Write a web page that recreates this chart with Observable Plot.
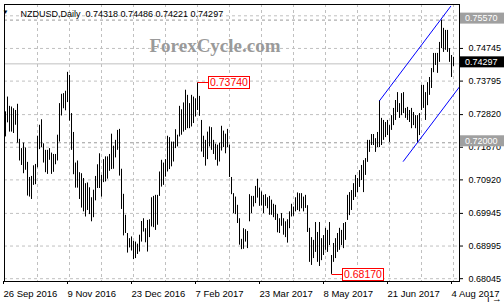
<!DOCTYPE html>
<html><head><meta charset="utf-8">
<script src="https://cdn.jsdelivr.net/npm/d3@7"></script>
<script src="https://cdn.jsdelivr.net/npm/@observablehq/plot@0.6"></script>
<style>
html,body{margin:0;padding:0;background:#fff;}
svg{display:block;}
</style></head><body><div id="chart"></div>
<script>
const symbol = "NZDUSD";
const timeframe = "Daily";
const lastOHLC = [0.74318, 0.74486, 0.74221, 0.74297];
const highs = [
0.7290,0.7333,0.7306,0.7304,0.7299,0.7294,0.7312,0.7210,0.7183,0.7199,
0.7185,0.7143,0.7099,0.7102,0.7133,0.7137,0.7219,0.7251,0.7267,0.7197,
0.7178,0.7178,0.7183,0.7170,0.7166,0.7166,0.7222,0.7314,0.7341,0.7343,
0.7350,0.7405,0.7396,0.7285,0.7230,0.7141,0.7147,0.7113,0.7110,0.7096,
0.7081,0.7083,0.7069,0.7040,0.7062,0.7102,0.7136,0.7168,0.7105,0.7151,
0.7159,0.7159,0.7166,0.7225,0.7190,0.7207,0.7236,0.7239,0.7123,0.7050,
0.6989,0.6936,0.6921,0.6926,0.6913,0.6911,0.6905,0.6931,0.6971,0.6979,
0.6950,0.6974,0.6976,0.7040,0.7044,0.7047,0.7047,0.7115,0.7149,0.7141,
0.7151,0.7219,0.7215,0.7202,0.7202,0.7238,0.7222,0.7306,0.7296,0.7316,
0.7353,0.7338,0.7314,0.7338,0.7333,0.7328,0.7374,0.7335,0.7265,0.7219,
0.7207,0.7231,0.7246,0.7244,0.7207,0.7196,0.7193,0.7199,0.7248,0.7234,
0.7225,0.7239,0.7193,0.7099,0.7052,0.7042,0.7018,0.6979,0.6919,0.6950,
0.6947,0.6942,0.7049,0.7044,0.7044,0.7073,0.7094,0.7068,0.7057,0.7047,
0.7049,0.7040,0.7044,0.7033,0.7021,0.7018,0.6992,0.6979,0.6994,0.6979,
0.6970,0.6976,0.6999,0.7021,0.7013,0.7040,0.7054,0.7052,0.7052,0.7042,
0.7047,0.7017,0.6951,0.6924,0.6916,0.6968,0.6939,0.6968,0.6921,0.6930,
0.6951,0.6945,0.6968,0.6872,0.6907,0.6921,0.6936,0.6951,0.6945,0.6965,
0.6968,0.7047,0.7055,0.7061,0.7081,0.7105,0.7096,0.7119,0.7134,0.7148,
0.7154,0.7207,0.7207,0.7224,0.7224,0.7212,0.7230,0.7323,0.7271,0.7265,
0.7259,0.7265,0.7250,0.7279,0.7300,0.7323,0.7346,0.7314,0.7343,0.7346,
0.7300,0.7303,0.7294,0.7300,0.7288,0.7279,0.7279,0.7285,0.7367,0.7367,
0.7346,0.7375,0.7390,0.7416,0.7460,0.7460,0.7460,0.7492,0.7557,0.7533,
0.7527,0.7527,0.7474,0.7454,0.74486];
const lows = [
0.7217,0.7258,0.7231,0.7231,0.7227,0.7251,0.7199,0.7147,0.7134,0.7110,
0.7120,0.7045,0.7042,0.7035,0.7076,0.7078,0.7127,0.7180,0.7186,0.7141,
0.7113,0.7108,0.7149,0.7108,0.7114,0.7136,0.7147,0.7202,0.7278,0.7299,
0.7293,0.7317,0.7263,0.7178,0.7107,0.7068,0.7068,0.7035,0.7010,0.6999,
0.6984,0.7003,0.6991,0.6970,0.6982,0.7031,0.7067,0.7067,0.7042,0.7084,
0.7086,0.7094,0.7117,0.7122,0.7123,0.7156,0.7178,0.7103,0.7006,0.6929,
0.6936,0.6879,0.6894,0.6885,0.6860,0.6863,0.6875,0.6882,0.6911,0.6940,
0.6909,0.6882,0.6924,0.6955,0.6953,0.6945,0.6960,0.7044,0.7071,0.7076,
0.7100,0.7115,0.7122,0.7130,0.7144,0.7183,0.7188,0.7217,0.7222,0.7231,
0.7236,0.7241,0.7241,0.7246,0.7256,0.7275,0.7294,0.7277,0.7173,0.7157,
0.7132,0.7151,0.7188,0.7178,0.7166,0.7149,0.7132,0.7144,0.7176,0.7186,
0.7168,0.7186,0.7099,0.7049,0.6994,0.6991,0.6965,0.6902,0.6889,0.6890,
0.6911,0.6892,0.6970,0.6994,0.7013,0.7023,0.7039,0.7015,0.7016,0.6994,
0.7015,0.7008,0.6989,0.6989,0.6982,0.6974,0.6938,0.6936,0.6957,0.6931,
0.6924,0.6908,0.6950,0.6984,0.6986,0.6999,0.7003,0.6999,0.7008,0.6999,
0.7009,0.6939,0.6852,0.6843,0.6863,0.6881,0.6852,0.6840,0.6857,0.6872,
0.6887,0.6881,0.6901,0.6817,0.6852,0.6863,0.6881,0.6887,0.6901,0.6892,
0.6916,0.6974,0.6988,0.7003,0.7032,0.7041,0.7055,0.7070,0.7090,0.7055,
0.7105,0.7143,0.7172,0.7192,0.7192,0.7172,0.7186,0.7186,0.7192,0.7207,
0.7215,0.7221,0.7201,0.7236,0.7250,0.7265,0.7288,0.7271,0.7279,0.7285,
0.7271,0.7265,0.7259,0.7241,0.7250,0.7241,0.7201,0.7221,0.7294,0.7300,
0.7265,0.7308,0.7338,0.7358,0.7404,0.7425,0.7402,0.7434,0.7474,0.7463,
0.7469,0.7463,0.7434,0.7390,0.74221];
const xTickIndex = [0, 32, 64, 96, 128, 160, 192, 224];
const xTickLabels = ["26 Sep 2016","9 Nov 2016","23 Dec 2016","7 Feb 2017","23 Mar 2017","8 May 2017","21 Jun 2017","4 Aug 2017"];
const gridIndex = [16,32,48,64,80,96,112,128,144,160,176,192,208,224];
const yTickValues = [0.68045,0.68995,0.69945,0.70920,0.71870,0.72820,0.73795,0.74745,0.75695];
const levelLines = [0.75570, 0.72000];
const channelUpper = [{i:187.1, p:0.7323},{i:222.6, p:0.7597}];
const channelLower = [{i:198.9, p:0.7146},{i:226.9, p:0.7362}];
const markedPoints = [{i:96, p:0.73740, label:"0.73740"},{i:163, p:0.68170, label:"0.68170"}];
const watermark = "ForexCycle.com";

const bars = highs.map((h, i) => ({i, high: h, low: lows[i]}));
const title = `${symbol},${timeframe}  ${lastOHLC.map(v => v.toFixed(5)).join(" ")}`;
const font = "'Liberation Sans', Arial, sans-serif";

const plot = Plot.plot({
  width: 504, height: 304,
  marginLeft: 4, marginRight: 45, marginTop: 4, marginBottom: 23,
  x: {domain: [-0.5, 227]},
  y: {domain: [0.67963, 0.76024]},
  style: {fontFamily: font, fontSize: "9px", background: "white", color: "black"},
  marks: [
    Plot.ruleX(gridIndex, {stroke: "#c0c0c0", strokeDasharray: "3,3"}),
    Plot.ruleY(yTickValues, {stroke: "#c0c0c0", strokeDasharray: "3,3"}),
    Plot.ruleY(levelLines, {stroke: "#999", strokeDasharray: "3,3"}),
    Plot.ruleY([lastOHLC[3]], {stroke: "#c0c0c0"}),
    Plot.text([watermark], {frameAnchor: "top", dx: -17, dy: 47, lineAnchor: "bottom", fontFamily: "'Liberation Serif', 'Times New Roman', serif", fontWeight: "bold", fontSize: 19, fill: "#9a9a9a"}),
    Plot.ruleX(bars, {x: "i", y1: "low", y2: "high", stroke: "black", strokeWidth: 1}),
    Plot.line(channelUpper, {x: "i", y: "p", stroke: "#0000ff", strokeWidth: 1}),
    Plot.line(channelLower, {x: "i", y: "p", stroke: "#0000ff", strokeWidth: 1}),
    Plot.text([title], {frameAnchor: "top-left", dx: 16, dy: 6, lineAnchor: "top", textAnchor: "start", fontSize: 9, fill: "black"}),
    Plot.text(["\u25BC"], {frameAnchor: "top-left", dx: 1, dy: 8, lineAnchor: "middle", textAnchor: "middle", fontSize: 6, fill: "black"}),
    Plot.frame({stroke: "black"}),
    Plot.axisX({ticks: xTickIndex, tickFormat: d => xTickLabels[xTickIndex.indexOf(d)], tickSize: 3, textAnchor: "start", dx: -2, fontSize: 9.5}),
    Plot.axisY({anchor: "right", ticks: yTickValues, tickFormat: d => d.toFixed(5), tickSize: 3, fontSize: 9})
  ]
});
document.getElementById("chart").appendChild(plot);

const svg = d3.select(plot);
const xs = plot.scale("x"), ys = plot.scale("y");
const right = xs.range[1];

function axisBox(value, fill) {
  const cy = ys.apply(value) - 1.5;
  const g = svg.append("g").attr("text-anchor", "start");
  g.append("rect").attr("x", right + 1).attr("y", cy - 5.5).attr("width", 44).attr("height", 11).attr("fill", fill);
  g.append("text").attr("x", right + 6).attr("y", cy).attr("dy", "0.35em")
    .attr("font-family", font).attr("font-size", 9).attr("fill", "white").text(value.toFixed(5));
}
levelLines.forEach(v => axisBox(v, "#a0a0a0"));
axisBox(lastOHLC[3], "black");

markedPoints.forEach(m => {
  const px = xs.apply(m.i) + 0.5, py = Math.round(ys.apply(m.p)) + 0.5;
  const g = svg.append("g").attr("text-anchor", "start");
  g.append("line").attr("x1", px).attr("x2", px + 11).attr("y1", py).attr("y2", py).attr("stroke", "red");
  g.append("rect").attr("x", px + 11).attr("y", py - 6).attr("width", 41).attr("height", 12)
    .attr("fill", "white").attr("stroke", "red");
  g.append("text").attr("x", px + 12.5).attr("y", py).attr("dy", "0.36em")
    .attr("font-family", font).attr("font-size", 10.5).attr("fill", "red").text(m.label);
});
</script></body></html>
